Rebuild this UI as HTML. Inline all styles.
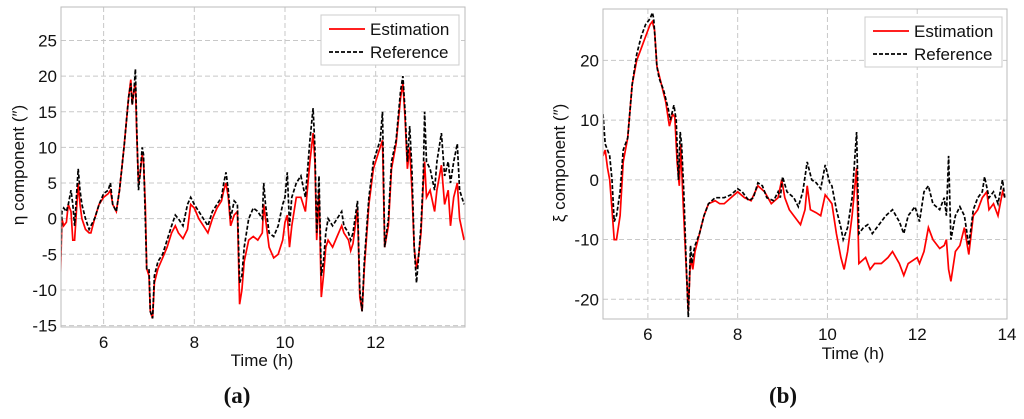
<!DOCTYPE html>
<html><head><meta charset="utf-8"><style>
html,body{margin:0;padding:0;background:#fff;}
svg text{font-family:"Liberation Sans",Arial,sans-serif;}
svg text.cap{font-family:"Liberation Serif",serif;}
</style></head><body>
<svg id="c" width="1024" height="414" xmlns="http://www.w3.org/2000/svg"></svg>
<script>
// Panel (a) data
const aTime=[5.05,5.08,5.12,5.18,5.22,5.28,5.32,5.36,5.4,5.44,5.48,5.52,5.6,5.68,5.72,5.8,5.9,6.0,6.1,6.15,6.2,6.28,6.35,6.45,6.55,6.6,6.63,6.67,6.7,6.73,6.77,6.8,6.85,6.88,6.92,6.95,7.0,7.03,7.08,7.12,7.2,7.3,7.4,7.5,7.58,7.65,7.75,7.85,7.92,8.0,8.1,8.2,8.3,8.4,8.5,8.6,8.65,8.7,8.75,8.8,8.88,8.95,9.0,9.05,9.1,9.2,9.3,9.4,9.5,9.53,9.57,9.65,9.75,9.85,9.95,10.0,10.05,10.1,10.15,10.25,10.35,10.45,10.55,10.62,10.66,10.7,10.75,10.8,10.85,10.9,10.95,11.05,11.15,11.25,11.3,11.4,11.45,11.5,11.6,11.65,11.7,11.75,11.85,11.95,12.05,12.1,12.15,12.2,12.28,12.35,12.45,12.55,12.6,12.65,12.7,12.75,12.8,12.85,12.9,12.95,13.0,13.05,13.08,13.12,13.2,13.3,13.35,13.45,13.52,13.6,13.65,13.72,13.8,13.85,13.95];
const aReference=[-7,1,1.5,1,2,4,2,-1,3,7,4,2,0,-1.5,-1,0,2,3.5,4,5,2,1,4,10,17,19,16,18,21,13,4,6,10,9,0,-7,-7,-13,-14,-8,-6,-5,-3,-1,0.5,0,-1,2,3,2,1,0,-1,1,2,3,5,6.5,4,0,2.5,2,-9,-8,-4,0,1.5,1,0,5,2,-2,-2.5,-1,2,3,6.5,-1,3,5,6,3,11,15.5,10,-2,6,-8,-6,-2,0,-1,0,1,-1,-2,-3,-2,2.5,-10,-13,-6,3,8,10,11,15,-4,0,8,11,18,20,15,8,13,7,-4,-9,-5,-1,6,15,8,7,4,8,12,6,8,5,8,10.5,4,2];
const aEstimation=[-8.5,0,-1,-0.5,2,1,-3,-3,1,5,2,0,-1.5,-2,-2,0,2,3,3.5,4,2,1,4,10,17,19.5,16,18,19,12,5,6,9,8,2,-7,-8,-13,-14,-9,-7,-5.5,-4,-2,-1,-2,-2.8,-1.5,2,1.5,0,-1,-2,0,1.5,2.5,4,5,3,-1,0.5,1,-12,-10,-6,-3,-2.5,-3,-2,2,0,-4,-5.5,-5,-3,-0.5,0.5,-4,-1,3,3,1,8,12,8,-3,4,-11,-8,-4,-3,-4,-2.5,-1,-2,-3,-4.5,-3.5,1.5,-11,-13,-7,2,7,9,10,11,-4,-1,7,10.5,17,19,14,7,10,4,-4,-7,-5,-2,5,8,3,4,1,4,7.5,2,4,-1,3,5,0,-3];
const aXTicks=[6,8,10,12];
const aYTicks=[-15,-10,-5,0,5,10,15,20,25];
// Panel (b) data
const bRefTime=[5.0,5.05,5.1,5.15,5.2,5.25,5.3,5.38,5.45,5.55,5.65,5.75,5.85,5.95,6.05,6.1,6.13,6.2,6.25,6.35,6.45,6.5,6.58,6.63,6.68,6.72,6.75,6.8,6.85,6.9,6.95,6.98,7.02,7.05,7.15,7.25,7.35,7.5,7.7,7.85,8.0,8.1,8.25,8.35,8.45,8.55,8.65,8.8,8.9,8.95,9.0,9.1,9.25,9.35,9.45,9.55,9.65,9.75,9.85,9.95,10.05,10.1,10.2,10.3,10.35,10.45,10.55,10.65,10.7,10.8,10.9,11.0,11.1,11.2,11.3,11.45,11.6,11.7,11.8,11.95,12.05,12.15,12.25,12.35,12.5,12.6,12.65,12.7,12.75,12.85,12.95,13.05,13.15,13.25,13.35,13.45,13.5,13.6,13.7,13.8,13.9,13.95];
const bReference=[11,6,5,4,0,-7,-6,-2,5,7,16,21,24,26,27,28,27,19,17,15,12,10,12.5,10,0,8,6,-2,-13,-23,-11,-14,-12,-11,-9,-6,-4,-3,-3,-2.5,-1.5,-2,-3.5,-3,-0.5,-1,-3,-3.5,-2,-3,0.5,-2,-3,-4.5,-2,3,0,-0.5,-1.5,2.5,-0.5,-1,-5,-8,-10,-8,-3,8,-9,-8,-7.5,-9,-8,-7,-6,-5,-7,-9,-6,-4.5,-7,-2,-1,-4,-5,-3,-6,4,-10,-6,-4.5,-6,-11,-5,-3,-2,0.5,-3,-2,-4,0,-3];
const bEstTime=[5.0,5.05,5.1,5.15,5.2,5.25,5.3,5.38,5.45,5.55,5.65,5.75,5.85,5.95,6.05,6.1,6.15,6.2,6.3,6.4,6.48,6.55,6.6,6.65,6.7,6.73,6.78,6.85,6.9,6.95,7.0,7.05,7.15,7.25,7.35,7.5,7.6,7.7,7.85,8.0,8.15,8.3,8.45,8.6,8.75,8.9,8.98,9.05,9.15,9.25,9.4,9.5,9.55,9.62,9.75,9.85,9.95,10.05,10.1,10.2,10.3,10.37,10.45,10.55,10.65,10.7,10.85,10.95,11.05,11.2,11.35,11.45,11.6,11.7,11.8,12.0,12.05,12.15,12.25,12.35,12.5,12.6,12.65,12.7,12.75,12.85,12.95,13.05,13.15,13.25,13.35,13.45,13.55,13.6,13.7,13.8,13.9,13.95];
const bEstimation=[4,5,2,0,-5,-10,-10,-6,3,7,16,20,22,24,26,26.5,25,19,16,13,9,11,10.5,3,-1,6,-3,-14,-22,-13,-15,-12,-9,-6,-4,-3.5,-4,-4,-3,-2,-3,-3.5,-1,-2,-4,-3,0,-3,-5,-6,-7.5,-5,-1,-5,-5.5,-6,-2.5,-3.5,-4,-9,-13,-15,-12,-6,2,-14,-13,-15,-14,-14,-13,-12,-14,-16,-14,-13,-14,-12,-8,-10,-11.5,-11,-10,-15,-17,-12,-11,-8,-12.5,-6,-5,-3,-2,-5,-4,-6,-2,-3];
const bXTicks=[6,8,10,12,14];
const bYTicks=[-20,-10,0,10,20];

const NS='http://www.w3.org/2000/svg';
const svg=document.getElementById('c');
function mk(tag,attrs,parent){const e=document.createElementNS(NS,tag);for(const k in attrs)e.setAttribute(k,attrs[k]);(parent||svg).appendChild(e);return e;}

function panel(p){
  const g=mk('g',{});
  
  
  const sx=v=>p.x0+(v-p.xmin)/(p.xmax-p.xmin)*(p.x1-p.x0);
  const sy=v=>p.y1-(v-p.ymin)/(p.ymax-p.ymin)*(p.y1-p.y0);
  mk('rect',{x:p.x0,y:p.y0,width:p.x1-p.x0,height:p.y1-p.y0,fill:'#fff'},g);
  p.xt.forEach(t=>{const X=sx(t);
    const l=mk('line',{x1:X,x2:X,y1:p.y0,y2:p.y1,stroke:'#c8c8c8','stroke-dasharray':'5,3','stroke-width':1},g);
    
    
    const tx=mk('text',{x:X,y:p.y1+21,'text-anchor':'middle','font-size':17,fill:'#111'},g);tx.textContent=t;
    
    
  });
  p.yt.forEach(t=>{const Y=sy(t);
    const l=mk('line',{x1:p.x0,x2:p.x1,y1:Y,y2:Y,stroke:'#c8c8c8','stroke-dasharray':'5,3','stroke-width':1},g);
    
    
    const tx=mk('text',{x:p.x0-4,y:Y+6,'text-anchor':'end','font-size':17,fill:'#111'},g);tx.textContent=t;
    
    
  });
  const clipId='clip'+p.name;
  const cp=mk('clipPath',{id:clipId},g);mk('rect',{x:p.x0,y:p.y0,width:p.x1-p.x0,height:p.y1-p.y0},cp);
  const path=(xs,ys)=>xs.map((v,i)=>(i?'L':'M')+sx(v).toFixed(1)+','+sy(ys[i]).toFixed(1)).join('');
  const e=mk('path',{d:path(p.et,p.ev),fill:'none',stroke:'#f00','stroke-width':1.7,'clip-path':'url(#'+clipId+')'},g);
  
  
  const r=mk('path',{d:path(p.rt,p.rv),fill:'none',stroke:'#000','stroke-width':1.7,'stroke-dasharray':'4,2','clip-path':'url(#'+clipId+')'},g);
  
  
  mk('rect',{x:p.x0,y:p.y0,width:p.x1-p.x0,height:p.y1-p.y0,fill:'none',stroke:'#bbb','stroke-width':1},g);
  const lg=mk('g',{},g);
  
  
  const L=p.leg;
  mk('rect',{x:L[0],y:L[1],width:L[2],height:L[3],fill:'#fff',stroke:'#ccc'},lg);
  mk('line',{x1:L[0]+8,x2:L[0]+44,y1:L[1]+14,y2:L[1]+14,stroke:'#f00','stroke-width':1.7},lg);
  mk('line',{x1:L[0]+8,x2:L[0]+44,y1:L[1]+37,y2:L[1]+37,stroke:'#000','stroke-width':1.7,'stroke-dasharray':'4,2'},lg);
  const t1=mk('text',{x:L[0]+49,y:L[1]+20,'font-size':17,fill:'#111'},lg);t1.textContent='Estimation';
  
  
  const t2=mk('text',{x:L[0]+49,y:L[1]+43,'font-size':17,fill:'#111'},lg);t2.textContent='Reference';
  
  
  const xl=mk('text',{x:p.xlab[0],y:p.xlab[1],'text-anchor':'middle','font-size':17,fill:'#111'},g);xl.textContent='Time (h)';
  
  
  const yl=mk('text',{x:0,y:0,'text-anchor':'middle','font-size':17,fill:'#111',transform:'translate('+p.ylab[0]+','+p.ylab[1]+') rotate(-90)'},g);yl.textContent=p.ytitle;
  
  
  const cap=mk('text',{x:p.cap[0],y:p.cap[1],'text-anchor':'middle','font-size':23,'font-weight':'bold',fill:'#111','class':'cap'},g);cap.textContent=p.captxt;
  
  
}
panel({name:'panel-a',x0:61,x1:465,y0:7,y1:327,xmin:5.06,xmax:13.97,ymin:-15.2,ymax:29.7,xt:aXTicks,yt:aYTicks,
  et:aTime,ev:aEstimation,rt:aTime,rv:aReference,leg:[321,15,138,50],xlab:[262,366],ylab:[24,165],ytitle:'η component (″)',cap:[237,403],captxt:'(a)'});
panel({name:'panel-b',x0:603,x1:1007,y0:9,y1:319,xmin:5,xmax:14,ymin:-23.3,ymax:28.6,xt:bXTicks,yt:bYTicks,
  et:bEstTime,ev:bEstimation,rt:bRefTime,rv:bReference,leg:[865,17,137,50],xlab:[853,359],ylab:[565,163],ytitle:'ξ component (″)',cap:[783,403],captxt:'(b)'});
</script>
</body></html>
